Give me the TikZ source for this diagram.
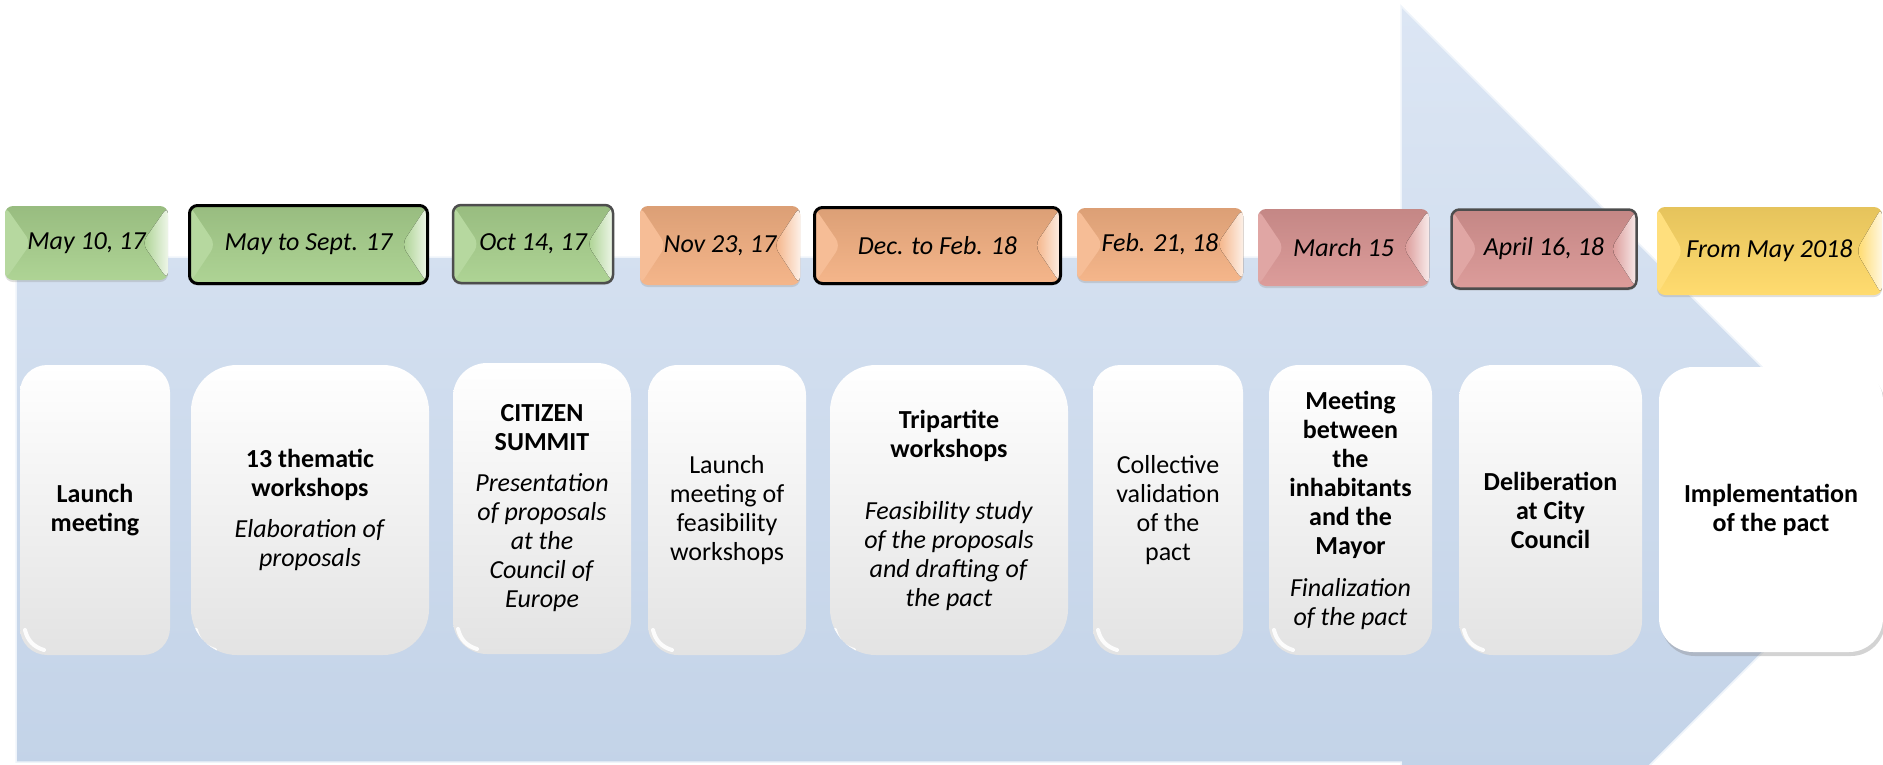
\documentclass[tikz,border=0pt]{standalone}
\usepackage{fontspec}
\setmainfont{Carlito}
\usetikzlibrary{shadows}
\definecolor{arrowtop}{HTML}{DCE6F4}
\definecolor{arrowbottom}{HTML}{BBCDE4}
\definecolor{phasegreen}{HTML}{A9D18E}
\definecolor{phaseorange}{HTML}{F4B183}
\definecolor{phasepink}{HTML}{DA9694}
\definecolor{phaseyellow}{HTML}{FFD966}
\definecolor{edgegrey}{HTML}{4D4D4D}
\begin{document}
\begin{tikzpicture}[x=1pt,y=-1pt,
  datebox/.style={rectangle,rounded corners=8pt,inner sep=0pt,top color=#1!90!black,bottom color=#1!94!white,font=\fontsize{26}{29}\selectfont\itshape,drop shadow={shadow xshift=0pt,shadow yshift=-2pt,opacity=0.25},
    path picture={
      \fill[#1!85!white] (path picture bounding box.north west) -- ([xshift=26pt]path picture bounding box.west) -- (path picture bounding box.south west) -- cycle;
      \fill[left color=#1,right color=#1!20!white] (path picture bounding box.north east) -- ([xshift=-26pt]path picture bounding box.east) -- (path picture bounding box.south east) -- cycle;}},
  card/.style={rectangle,align=center,inner sep=0pt,font=\fontsize{26}{29}\selectfont},
  softcard/.style={card,top color=white,middle color=white,bottom color=black!11,
    path picture={
      \draw[white,opacity=0.9,line width=4pt,line cap=round] ([xshift=5pt,yshift=25pt]path picture bounding box.south west) to[bend right=30] ([xshift=24pt,yshift=5pt]path picture bounding box.south west);}},
  boldedge/.style={draw=black,line width=3pt},
  greyedge/.style={draw=edgegrey,line width=2.5pt}]
\useasboundingbox (0,0) rectangle (1883,764);
\clip (0,0) rectangle (1883,764);
\path[top color=arrowtop,bottom color=arrowbottom,draw=white!55!arrowtop,line width=1.5pt] (16,257) -- (1401,257) -- (1401,6) -- (1905,510) -- (1401,1014) -- (1401,762) -- (16,762) -- cycle;
\node[datebox=phasegreen,minimum width=163pt,minimum height=74pt] (date1) at (86.5,243) {May 10, 17};
\node[datebox=phasegreen,boldedge,minimum width=238pt,minimum height=78pt] (date2) at (308.5,244.5) {May to Sept. 17};
\node[datebox=phasegreen,greyedge,minimum width=160pt,minimum height=78pt] (date3) at (533,244) {Oct 14, 17};
\node[datebox=phaseorange,minimum width=160pt,minimum height=79pt] (date4) at (720,245.5) {Nov 23, 17};
\node[datebox=phaseorange,boldedge,minimum width=246pt,minimum height=76pt] (date5) at (937.5,245.5) {Dec. to Feb. 18};
\node[datebox=phaseorange,minimum width=166pt,minimum height=73pt] (date6) at (1160,244.5) {Feb. 21, 18};
\node[datebox=phasepink,minimum width=171pt,minimum height=77pt] (date7) at (1343.5,247.5) {March 15};
\node[datebox=phasepink,greyedge,minimum width=185pt,minimum height=79pt] (date8) at (1544,249) {April 16, 18};
\node[datebox=phaseyellow,minimum width=225pt,minimum height=88pt] (date9) at (1769.5,251) {From May 2018};
\node[softcard,rounded corners=27pt,minimum width=150pt,minimum height=290pt] (card1) at (95,510) {\textbf{Launch}\\\textbf{meeting}};
\node[softcard,rounded corners=46pt,minimum width=238pt,minimum height=290pt] (card2) at (310,510) {\textbf{13 thematic}\\\textbf{workshops}\\[12pt]\textit{Elaboration of}\\\textit{proposals}};
\node[softcard,rounded corners=34pt,minimum width=178pt,minimum height=291pt] (card3) at (542,508.5) {\textbf{CITIZEN}\\\textbf{SUMMIT}\\[12pt]\textit{Presentation}\\\textit{of proposals}\\\textit{at the}\\\textit{Council of}\\\textit{Europe}};
\node[softcard,rounded corners=30pt,minimum width=158pt,minimum height=290pt] (card4) at (727,510) {Launch\\meeting of\\feasibility\\workshops};
\node[softcard,rounded corners=46pt,minimum width=238pt,minimum height=290pt] (card5) at (949,510) {\textbf{Tripartite}\\\textbf{workshops}\\[33pt]\textit{Feasibility study}\\\textit{of the proposals}\\\textit{and drafting of}\\\textit{the pact}};
\node[softcard,rounded corners=27pt,minimum width=150pt,minimum height=290pt] (card6) at (1168,510) {Collective\\validation\\of the\\pact};
\node[softcard,rounded corners=30pt,minimum width=163pt,minimum height=290pt] (card7) at (1350.5,510) {\textbf{Meeting}\\\textbf{between}\\\textbf{the}\\\textbf{inhabitants}\\\textbf{and the}\\\textbf{Mayor}\\[13pt]\textit{Finalization}\\\textit{of the pact}};
\node[softcard,rounded corners=34pt,minimum width=183pt,minimum height=290pt] (card8) at (1550.5,510) {\textbf{Deliberation}\\\textbf{at City}\\\textbf{Council}};
\node[card,fill=white,rounded corners=34pt,minimum width=224pt,minimum height=285pt,drop shadow={shadow xshift=2pt,shadow yshift=-4pt,opacity=0.35}] (card9) at (1771,509.5) {\textbf{Implementation}\\\textbf{of the pact}};
\end{tikzpicture}
\end{document}
